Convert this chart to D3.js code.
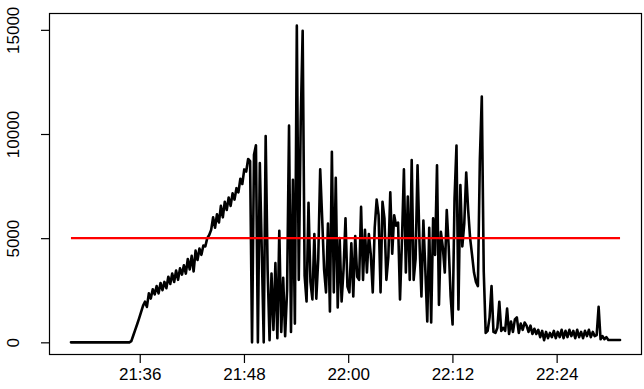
<!DOCTYPE html>
<html>
<head>
<meta charset="utf-8">
<script src="https://cdn.jsdelivr.net/npm/d3@7"></script>
<style>
  html, body { margin: 0; padding: 0; background: #ffffff; }
  svg { display: block; }
  text { font-family: "Liberation Sans", Arial, Helvetica, sans-serif; }
</style>
</head>
<body>
<svg id="chart" width="644" height="389"></svg>
<script>
// ---- data ----
const startTime = "21:28:05";
const stepSeconds = 13.45;
const values = [
  0,0,0,0,0,0,0,0,0,0, 0,0,0,0,0,0,0,0,0,0, 0,0,0,0,0,0,0,0,0,0, 0,
  60,330,600,870,1150,1450,1750,1950,1700,
  2350,2100,2550,2300,2700,2350,2850,2500,2900,2600,
  3150,2800,3300,2900,3450,3000,3550,3250,3700,3300,
  4000,3500,4150,3400,4400,3950,4500,4200,4650,4600,
  5000,5150,5400,6000,5500,6150,5750,6550,6000,6750,
  6350,6950,6550,7150,6850,7400,7200,7850,7600,8300,
  8200,8800,8700,0,9000,9460,0,8600,4400,0,
  9900,3500,100,3300,600,3800,200,5350,500,3100,
  300,2500,10400,500,7800,900,15200,3000,10600,14950,
  3200,1960,6700,2900,2060,5200,2100,4000,8300,6000,
  3500,2400,5700,1480,9150,2400,7900,1670,5000,1960,
  3500,5950,2680,2400,4750,2200,5100,3150,3000,6500,
  3000,5400,3350,5200,4200,2400,5500,6850,6100,2400,
  6750,5950,3000,4100,7200,4250,6100,5600,5750,2060,
  4900,8300,3350,7000,3000,8750,3000,4000,8500,4800,
  2200,5850,3500,1000,5500,950,5950,4200,8500,1800,
  5300,4550,3350,6350,4600,2200,860,6900,9450,1580,
  7550,4600,5700,8150,6350,5000,4200,3350,2900,2700,
  8750,11800,3400,450,550,1200,2700,500,450,700,
  1950,550,700,550,1620,400,1000,500,1100,1200,
  450,900,600,950,800,500,800,400,650,400,
  600,250,550,100,500,200,450,250,550,200,
  500,250,600,200,550,250,600,300,550,200,
  600,250,500,200,550,300,600,250,500,300,
  350,1700,150,300,150,250,110,110,110,110,
  110,110,110
];
const threshold = 5000;
const yTicks = [0, 5000, 10000, 15000];
const xTickLabels = ["21:36", "21:48", "22:00", "22:12", "22:24"];

// ---- build series ----
const day = "2020-01-01T";
const t0 = new Date(day + startTime);
const series = values.map((v, i) => ({ t: new Date(t0.getTime() + i * stepSeconds * 1000), v }));
const xTicks = xTickLabels.map(s => new Date(day + s + ":00"));

// ---- layout ----
const svg = d3.select("#chart");
const plot = { left: 49, right: 642, top: 13, bottom: 355 };

const tExt = d3.extent(series, d => d.t);
const tPad = (tExt[1] - tExt[0]) * 0.04;
const x = d3.scaleTime()
  .domain([new Date(+tExt[0] - tPad), new Date(+tExt[1] + tPad)])
  .range([plot.left, plot.right]);

const vExt = d3.extent(series, d => d.v);
const vPad = (vExt[1] - vExt[0]) * 0.04;
const y = d3.scaleLinear()
  .domain([vExt[0] - vPad, vExt[1] + vPad])
  .range([plot.bottom, plot.top]);

// data line
const line = d3.line().x(d => x(d.t)).y(d => y(d.v));
svg.append("path")
  .datum(series)
  .attr("d", line)
  .attr("fill", "none")
  .attr("stroke", "#000")
  .attr("stroke-width", 2.6)
  .attr("stroke-linejoin", "round")
  .attr("stroke-linecap", "round");

// threshold line over data range
svg.append("path")
  .datum([{ t: tExt[0], v: threshold }, { t: tExt[1], v: threshold }])
  .attr("d", line)
  .attr("fill", "none")
  .attr("stroke", "#ff0000")
  .attr("stroke-width", 2.4);

// box
svg.append("rect")
  .attr("x", plot.left + 0.5).attr("y", plot.top + 0.5)
  .attr("width", plot.right - plot.left - 1).attr("height", plot.bottom - plot.top - 1)
  .attr("fill", "none").attr("stroke", "#000").attr("stroke-width", 1.2);

// x axis
const xAxis = d3.axisBottom(x)
  .tickValues(xTicks)
  .tickFormat(d3.timeFormat("%H:%M"))
  .tickSize(8)
  .tickPadding(5);
const gx = svg.append("g")
  .attr("transform", `translate(0,${plot.bottom})`)
  .call(xAxis);
gx.select(".domain").remove();
gx.selectAll(".tick line").attr("stroke", "#000").attr("stroke-width", 1.2);
gx.selectAll(".tick text")
  .attr("fill", "#000")
  .style("font-size", "17px");

// y axis
const yAxis = d3.axisLeft(y)
  .tickValues(yTicks)
  .tickFormat(d3.format("d"))
  .tickSize(8);
const gy = svg.append("g")
  .attr("transform", `translate(${plot.left},0)`)
  .call(yAxis);
gy.select(".domain").remove();
gy.selectAll(".tick line").attr("stroke", "#000").attr("stroke-width", 1.2);
gy.selectAll(".tick text")
  .attr("fill", "#000")
  .attr("x", null).attr("dy", null)
  .attr("transform", "rotate(-90)")
  .attr("text-anchor", "middle")
  .attr("y", -30)
  .style("font-size", "17px");
</script>
</body>
</html>
